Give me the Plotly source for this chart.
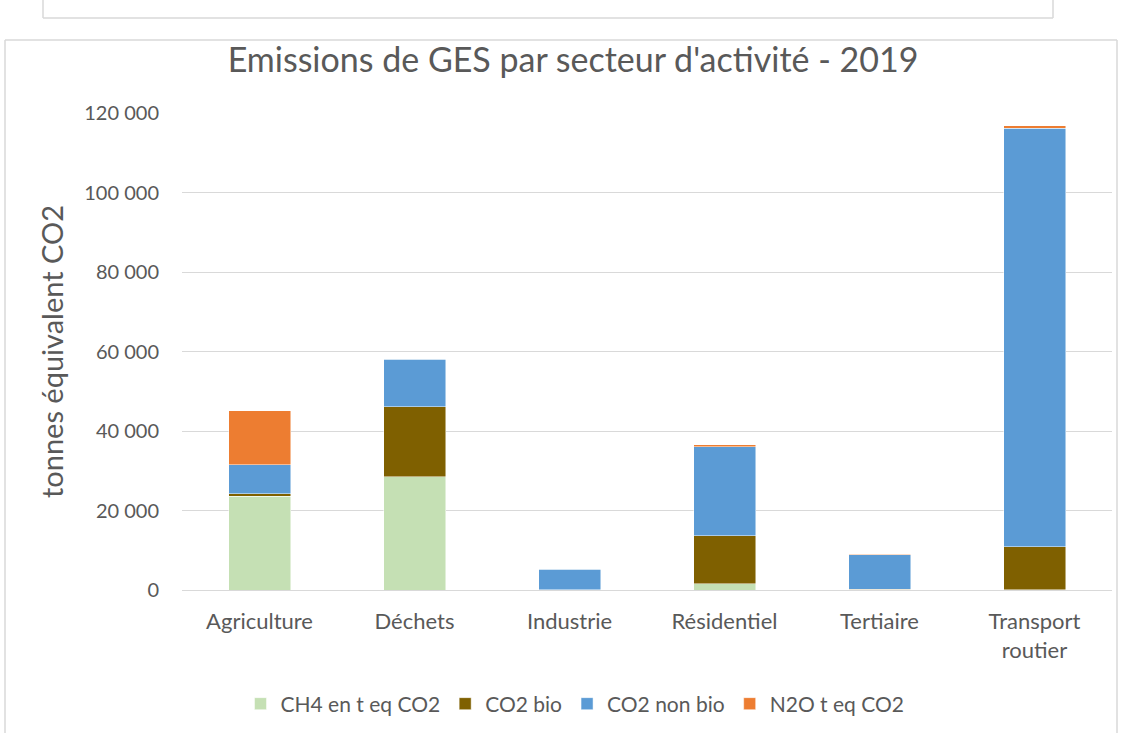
import plotly.graph_objects as go

secteurs = ["Agriculture", "Déchets", "Industrie", "Résidentiel", "Tertiaire", "Transport<br>routier"]

ch4 = [23600, 28500, 50, 1600, 100, 100]
co2_bio = [600, 17600, 50, 12000, 150, 10800]
co2_non_bio = [7300, 11900, 5100, 22500, 8600, 105300]
n2o = [13600, 200, 100, 500, 150, 600]

series = [
    ("CH4 en t eq CO2", ch4, "#C5E0B4"),
    ("CO2 bio", co2_bio, "#7F6000"),
    ("CO2 non bio", co2_non_bio, "#5B9BD5"),
    ("N2O t eq CO2", n2o, "#ED7D31"),
]

FONT = "Lato, 'Open Sans', sans-serif"
GRIS = "#595959"

fig = go.Figure()
for nom, valeurs, couleur in series:
    fig.add_trace(go.Bar(
        x=secteurs, y=valeurs, name=nom,
        marker=dict(color=couleur, line=dict(color="rgba(255,255,255,0.6)", width=0.8)),
    ))

# cadre du graphique (style Excel)
L, R, T, B = 182, 17, 113, 143
W, H = 1129, 733
pw, ph = W - L - R, H - T - B


def px(x):
    return (x - L) / pw


def py(y):
    return (H - B - y) / ph


cadre = "#D9D9D9"
for x0, y0, x1, y1 in [
    (5, 40, 1117, 40), (5, 40, 5, 733), (1117, 40, 1117, 733),
    (43, 0, 43, 18), (43, 18, 1053, 18), (1053, 0, 1053, 18),
]:
    fig.add_shape(type="line", xref="paper", yref="paper",
                  x0=px(x0), y0=py(y0), x1=px(x1), y1=py(y1),
                  line=dict(color=cadre, width=1.5))

fig.update_layout(
    barmode="stack",
    bargap=0.6,
    width=W, height=H,
    margin=dict(l=L, r=R, t=T, b=B, autoexpand=False),
    paper_bgcolor="white",
    plot_bgcolor="white",
    separators=", ",
    font=dict(family=FONT, color=GRIS, size=20),
    title=dict(
        text="Emissions de GES par secteur d'activité - 2019",
        x=px(573), xref="paper", xanchor="center",
        y=1 - 60 / H, yanchor="middle",
        font=dict(size=34, color=GRIS, family=FONT),
    ),
    xaxis=dict(
        showgrid=False, showline=False, ticks="",
        ticklabelstandoff=16, tickangle=0,
        tickfont=dict(size=22, color=GRIS),
    ),
    yaxis=dict(
        range=[0, 120000], dtick=20000, tickformat=",d",
        showgrid=True, gridcolor="#D9D9D9", gridwidth=1,
        zeroline=True, zerolinecolor="#D9D9D9", zerolinewidth=1,
        showline=False, ticks="", ticklabelstandoff=22,
        tickfont=dict(size=20, color=GRIS),
        title=dict(text="tonnes équivalent CO2", font=dict(size=29, color=GRIS), standoff=12),
    ),
    legend=dict(
        orientation="h", x=px(575), xanchor="center",
        y=py(704), yanchor="middle",
        font=dict(size=21, color=GRIS),
        itemwidth=30, traceorder="normal",
    ),
)

fig.write_html("out.html", config={"displayModeBar": False},
               post_script="document.body.style.margin='0';")
